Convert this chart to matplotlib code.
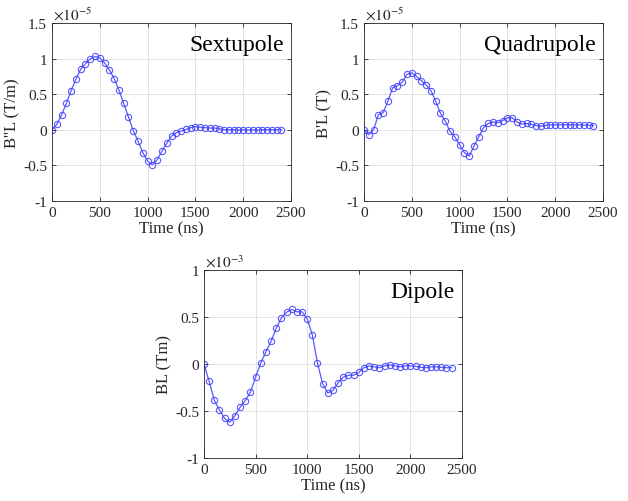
import matplotlib

matplotlib.use("Agg")
import matplotlib.pyplot as plt  # noqa: E402
import numpy as np  # noqa: E402
from matplotlib.ticker import FormatStrFormatter  # noqa: E402

# time axis (ns), 50 ns steps
time_ns = np.arange(0, 2401, 50)

# sextupole B''L in units of 1e-5 T/m
sextupole = [0.0, 0.075, 0.21, 0.37, 0.55, 0.71, 0.85, 0.93, 0.995, 1.03,
             1.01, 0.94, 0.84, 0.72, 0.56, 0.37, 0.18, -0.01, -0.16, -0.32,
             -0.44, -0.49, -0.42, -0.30, -0.19, -0.09, -0.04, -0.02, 0.005, 0.03,
             0.045, 0.035, 0.03, 0.025, 0.025, 0.015, 0.0, 0.0, 0.0, -0.005,
             0.0, -0.005, 0.0, -0.005, 0.0, 0.0, 0.0, 0.0, 0.0]

# quadrupole B'L in units of 1e-5 T
quadrupole = [0.0, -0.07, 0.0, 0.21, 0.24, 0.40, 0.59, 0.62, 0.67, 0.78,
              0.80, 0.75, 0.69, 0.63, 0.55, 0.40, 0.23, 0.12, -0.02, -0.10,
              -0.21, -0.32, -0.37, -0.23, -0.10, 0.03, 0.09, 0.11, 0.10, 0.13,
              0.17, 0.17, 0.11, 0.08, 0.09, 0.075, 0.06, 0.05, 0.065, 0.07,
              0.07, 0.07, 0.07, 0.07, 0.07, 0.07, 0.065, 0.065, 0.06]

# dipole BL in units of 1e-3 Tm
dipole = [0.0, -0.185, -0.385, -0.49, -0.58, -0.62, -0.55, -0.46, -0.39, -0.30,
          -0.14, 0.01, 0.13, 0.24, 0.38, 0.49, 0.55, 0.58, 0.555, 0.555,
          0.48, 0.31, 0.01, -0.21, -0.31, -0.28, -0.20, -0.14, -0.12, -0.12,
          -0.09, -0.04, -0.02, -0.03, -0.04, -0.02, -0.01, -0.02, -0.03, -0.02,
          -0.02, -0.025, -0.035, -0.04, -0.03, -0.03, -0.035, -0.04, -0.04]

plt.rcParams["font.family"] = ["Liberation Serif", "DejaVu Serif"]
plt.rcParams["mathtext.fontset"] = "stix"
plt.rcParams["axes.unicode_minus"] = False

LINE_COLOR = "#3c3cff"


def draw_panel(ax, y, ylim, yticks, ylabel, name, exponent):
    ax.plot(time_ns, y, "-", color=LINE_COLOR, lw=0.9, marker="o",
            markersize=4.5, mfc="none", mec=LINE_COLOR, mew=0.8, alpha=0.85)
    ax.set_xlim(0, 2500)
    ax.set_ylim(*ylim)
    ax.set_xticks(np.arange(0, 2501, 500))
    ax.set_yticks(yticks)
    ax.yaxis.set_major_formatter(FormatStrFormatter("%g"))
    ax.grid(True, color="#e3e3e3", lw=0.7)
    ax.set_axisbelow(True)
    ax.tick_params(direction="in", top=True, right=True, labelsize=11,
                   length=3, width=0.6, colors="#262626", labelcolor="#262626")
    for s in ax.spines.values():
        s.set_color("#262626")
        s.set_linewidth(0.6)
    ax.set_xlabel("Time (ns)", fontsize=12, labelpad=1, color="#262626")
    ax.set_ylabel(ylabel, fontsize=12, labelpad=2, color="#262626")
    ax.text(0.97, 0.94, name, transform=ax.transAxes, ha="right", va="top",
            fontsize=17)
    ax.text(0.005, 1.0, r"$\times10^{%d}$" % exponent, transform=ax.transAxes,
            ha="left", va="bottom", fontsize=11, color="#262626")


fig = plt.figure(figsize=(6.28, 5.02), dpi=100)
ax1 = fig.add_axes([0.0828, 0.5976, 0.3806, 0.3546])
ax2 = fig.add_axes([0.5796, 0.5976, 0.3806, 0.3546])
ax3 = fig.add_axes([0.3248, 0.0857, 0.4108, 0.3745])

draw_panel(ax1, sextupole, (-1, 1.5), np.arange(-1, 1.51, 0.5),
           "B''L (T/m)", "Sextupole", -5)
draw_panel(ax2, quadrupole, (-1, 1.5), np.arange(-1, 1.51, 0.5),
           "B'L (T)", "Quadrupole", -5)
draw_panel(ax3, dipole, (-1, 1), np.arange(-1, 1.01, 0.5),
           "BL (Tm)", "Dipole", -3)

fig.savefig("out.png", dpi=100)
